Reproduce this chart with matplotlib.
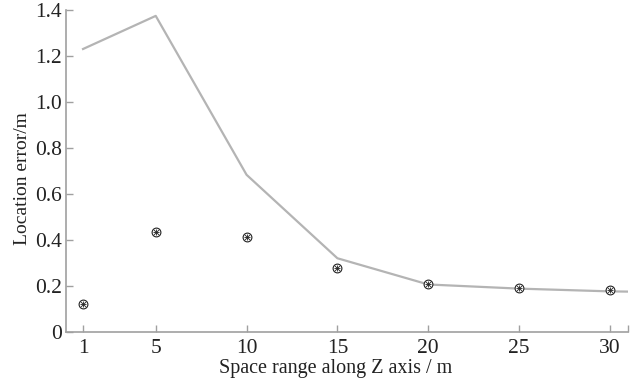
import matplotlib
matplotlib.use("Agg")
import matplotlib.pyplot as plt

# Line series (gray curve)
line_x = [1, 5, 10, 15, 20, 25, 30, 31]
line_y = [1.23, 1.374, 0.683, 0.32, 0.206, 0.188, 0.176, 0.175]

# Marker series (circled asterisks)
pt_x = [1, 5, 10, 15, 20, 25, 30]
pt_y = [0.122, 0.435, 0.413, 0.278, 0.207, 0.191, 0.183]

xticks = [1, 5, 10, 15, 20, 25, 30, 31]
xtick_labels = ["1", "5", "10", "15", "20", "25", "30", ""]
yticks = [0, 0.2, 0.4, 0.6, 0.8, 1.0, 1.2, 1.4]
ytick_labels = ["0", "0.2", "0.4", "0.6", "0.8", "1.0", "1.2", "1.4"]

plt.rcParams["font.family"] = ["Liberation Serif", "DejaVu Serif"]

fig = plt.figure(figsize=(6.3, 3.81), dpi=100)
ax = fig.add_axes([0.105, 0.129, 0.892, 0.845])

ax.plot(line_x, line_y, color="#b4b4b4", linewidth=1.6, zorder=2)
ax.scatter(pt_x, pt_y, s=40, facecolors="white", edgecolors="#222222",
           linewidths=0.8, marker="o", zorder=3)
ax.scatter(pt_x, pt_y, s=20, color="#222222", linewidths=0.6, marker="+", zorder=4)
ax.scatter(pt_x, pt_y, s=13, color="#222222", linewidths=0.6, marker="x", zorder=4)

ax.set_xlim(0.07, 31)
ax.set_ylim(0, 1.4)
ax.set_xticks(xticks)
ax.set_xticklabels(xtick_labels)
ax.set_yticks(yticks)
ax.set_yticklabels(ytick_labels)

for side in ["top", "right"]:
    ax.spines[side].set_visible(False)
for side in ["left", "bottom"]:
    ax.spines[side].set_color("#a0a0a0")
    ax.spines[side].set_linewidth(1.2)

ax.tick_params(direction="in", length=5, width=1.0, color="#a0a0a0",
               labelsize=15.5, labelcolor="#222222")
ax.tick_params(axis="x", pad=5)
ax.tick_params(axis="y", pad=3)

ax.set_xlabel("Space range along Z axis / m", fontsize=14.5, color="#222222", labelpad=0)
ax.set_ylabel("Location error/m", fontsize=14, color="#222222", labelpad=2)
ax.xaxis.set_label_coords(0.48, -0.085)
ax.yaxis.set_label_coords(-0.062, 0.475)

fig.savefig("out.png", dpi=100)
